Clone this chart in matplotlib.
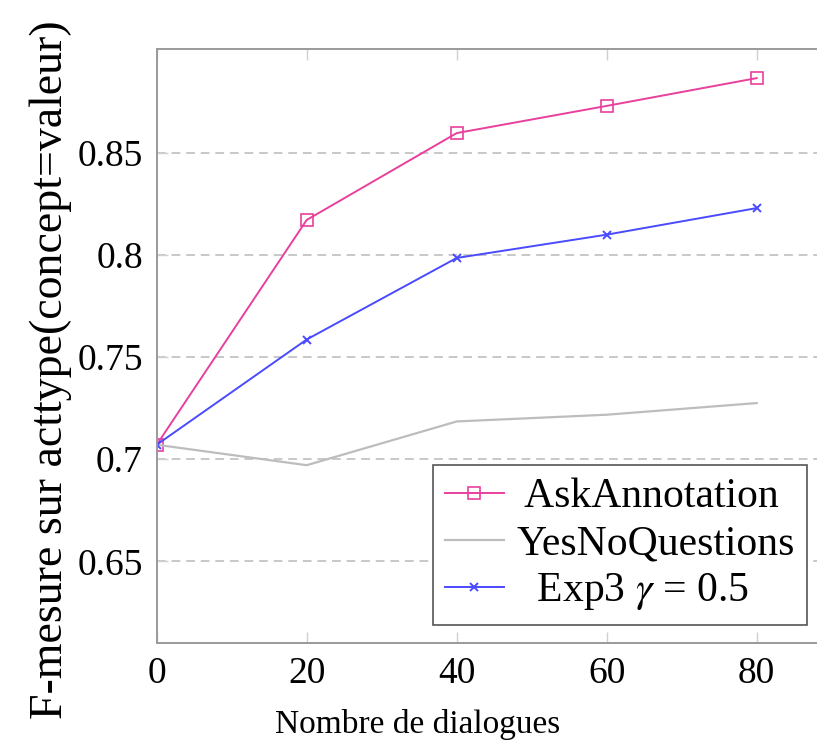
import matplotlib
matplotlib.use("Agg")
import matplotlib.pyplot as plt

# data
dialogues = [0, 20, 40, 60, 80]
ask_annotation = [0.707, 0.817, 0.8595, 0.8728, 0.8864]
yes_no_questions = [0.707, 0.697, 0.7184, 0.7217, 0.7274]
exp3 = [0.707, 0.7585, 0.7984, 0.8098, 0.8228]
xticks = [0, 20, 40, 60, 80]
yticks = [0.65, 0.7, 0.75, 0.8, 0.85]
ytick_labels = ["0.65", "0.7", "0.75", "0.8", "0.85"]

plt.rcParams["font.family"] = ["Liberation Serif", "DejaVu Serif"]
plt.rcParams["mathtext.fontset"] = "stix"

W, H = 817, 754
fig = plt.figure(figsize=(W / 100, H / 100), dpi=100)
# axes deliberately runs past the right edge of the figure (as in the reference)
left, right, top, bottom = 156.7, 156.7 + 90 * 7.5, 49.3, 643
ax = fig.add_axes([left / W, 1 - bottom / H, (right - left) / W, (bottom - top) / H])

ax.plot(dialogues, ask_annotation, color="#e8409c", lw=1.4, marker="s",
        markersize=9, markerfacecolor="none", markeredgecolor="#e8409c",
        markeredgewidth=1.2, label=" AskAnnotation")
ax.plot(dialogues, yes_no_questions, color="#bdbdbd", lw=1.6, label="YesNoQuestions")
ax.plot(dialogues, exp3, color="#4a4aff", lw=1.4, marker="x", markersize=6,
        markeredgewidth=1.4, label=r"  Exp3 $\gamma$ = 0.5")

ax.set_xlim(0, 90)
ax.set_ylim(0.61, 0.9005)
ax.set_xticks(xticks)
ax.set_yticks(yticks)
ax.set_yticklabels(ytick_labels)
ax.yaxis.grid(True, color="#c8c8c8", linestyle=(0, (4.5, 3)), lw=1.4)
ax.set_axisbelow(True)

for s in ax.spines.values():
    s.set_color("#9a9a9a")
    s.set_linewidth(1.4)
ax.tick_params(direction="in", length=8, width=1, color="#d0d0d0",
               top=True, right=True, labelsize=27, pad=10)

ax.set_xlabel("Nombre de dialogues", fontsize=24)
ax.xaxis.set_label_coords(418 / W, 1 - 733 / H, transform=fig.transFigure)
ax.xaxis.label.set_va("baseline")
ax.set_ylabel("F-mesure sur acttype(concept=valeur)", fontsize=33)
ax.yaxis.set_label_coords(62 / W, 1 - 370 / H, transform=fig.transFigure)
ax.yaxis.label.set_va("baseline")

leg = ax.legend(loc="lower right", bbox_to_anchor=(807 / W, 1 - 625 / H),
                bbox_transform=fig.transFigure, fontsize=30, fancybox=False,
                framealpha=1, edgecolor="#555555", handlelength=1.4,
                borderpad=0.3, labelspacing=0.2, handletextpad=0.3,
                borderaxespad=0)
leg.get_frame().set_linewidth(1.2)

fig.savefig("out.png", dpi=100)
